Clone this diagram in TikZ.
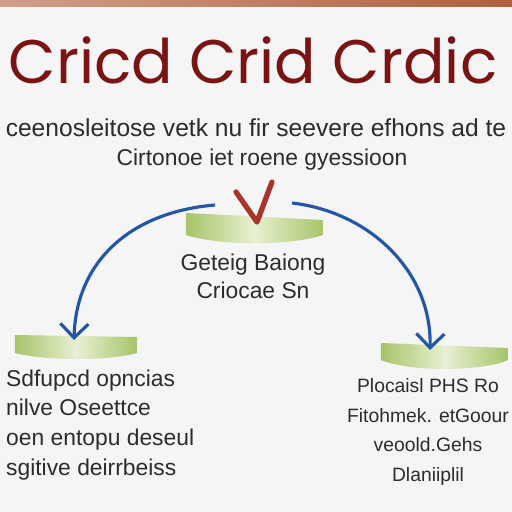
\documentclass[tikz,border=0pt]{standalone}
\usepackage{fontspec}
\setmainfont{Liberation Sans}
\newfontfamily\titlefont{Poppins}
\usetikzlibrary{arrows.meta}

\definecolor{titlered}{HTML}{7A1414}
\definecolor{checkred}{HTML}{A8342A}
\definecolor{arcblue}{HTML}{2456A8}
\definecolor{bargreen}{HTML}{A6C46A}
\definecolor{barlight}{HTML}{E8F0D2}
\definecolor{inkgray}{HTML}{2C2C2C}
\definecolor{topbrown}{HTML}{B0603E}

\tikzset{
  body/.style={text=inkgray, font=\fontsize{13}{17}\selectfont},
  bluearc/.style={draw=arcblue, line width=1.8pt,
    -{Straight Barb[length=8pt, width=16pt, line width=1.8pt]}},
  greenbar/.style={left color=bargreen, right color=bargreen, middle color=barlight}
}

\begin{document}
\begin{tikzpicture}[x=0.02cm, y=0.02cm]
                    \useasboundingbox (0,0) rectangle (512,512);
                    \fill[white!96!black] (0,0) rectangle (512,512);
                    \shade[left color=topbrown!60, right color=topbrown, middle color=topbrown!80] (0,506) rectangle (512,512);
                    % Nodes
                    \node[text=titlered, font=\titlefont\fontsize{35}{40}\selectfont] (title) at (253,452) {Cricd Crid Crdic};
                    \node[body, font=\fontsize{14}{17}\selectfont] (intro1) at (256,384) {ceenosleitose vetk nu fir seevere efhons ad te};
                    \node[body] (intro2) at (262,352) {Cirtonoe iet roene gyessioon};
                    \node[body, align=center, font=\fontsize{13}{16}\selectfont] (mid) at (253,236) {Geteig Baiong\\Criocae Sn};
                    \node[body, align=left, anchor=west] (left) at (0,87) {Sdfupcd opncias\\nilve Oseettce\\oen entopu deseul\\sgitive deirrbeiss};
                    \node[body, align=center, font=\fontsize{11}{17}\selectfont] (right) at (428,80) {Plocaisl PHS Ro\\Fitohmek. etGoour\\veoold.Gehs\\Dlaniiplil};
                    % Bars
                    \shade[greenbar] (186,299) -- (323,292) -- (323,277) .. controls (290,266) and (220,266) .. (186,277) -- cycle;
                    \shade[greenbar] (15,177) -- (137,175) -- (137,159) .. controls (110,151) and (45,151) .. (15,159) -- cycle;
                    \shade[greenbar] (381,169) -- (508,164) -- (508,152) .. controls (480,140) and (410,140) .. (381,152) -- cycle;
                    % Check
                    \coordinate (tick) at (257,290);
                    \draw[checkred, line width=3pt, line cap=round, line join=round] (236,320) -- (tick) -- (272,330);
                    % Edges
                    \coordinate (lstart) at (215,307);
                    \coordinate (lend) at (74,172);
                    \coordinate (rstart) at (292,309);
                    \coordinate (rend) at (430,162);
                    \draw[bluearc] (lstart) .. controls (130,300) and (76,250) .. (lend);
                    \draw[bluearc] (rstart) .. controls (370,300) and (432,240) .. (rend);
                \end{tikzpicture}
\end{document}
